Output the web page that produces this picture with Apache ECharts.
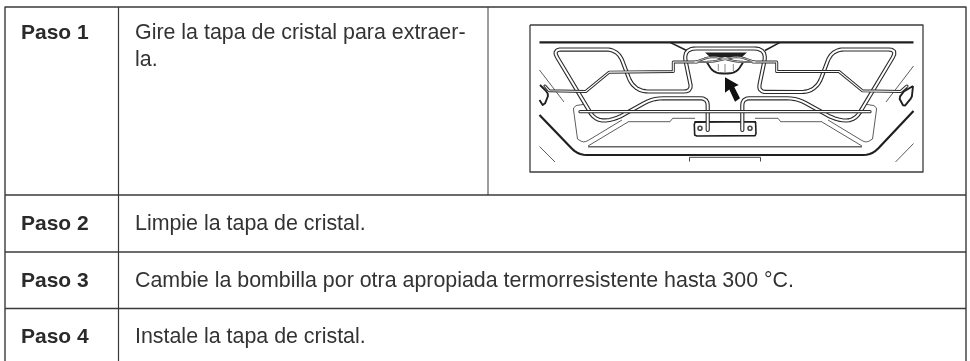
<!DOCTYPE html>
<html>
<head>
<meta charset="utf-8">
<style>html,body{margin:0;padding:0;background:#fff}#c{width:970px;height:361px}</style>
<script src="https://cdn.jsdelivr.net/npm/echarts@6/dist/echarts.min.js"></script>
</head>
<body>
<div id="c"></div>
<script>
// Table rules, in picture units
var tableOutline = [[5,361],[5,7],[966,7],[966,361]];
var tableCol1 = [[118.5,7],[118.5,361]];
var tableCol2 = [[488,7],[488,195]];
var tableRows = [[[5,195],[966,195]],[[5,252],[966,252]],[[5,308.5],[966,308.5]]];
var frame = [[530,25],[923,25],[923,172],[530,172],[530,25]];

// Table text: [x, y, text, bold]
var cellTexts = [
  [21,33,'Paso 1',true],
  [135,33,'Gire la tapa de cristal para extraer-',false],
  [135,60,'la.',false],
  [21,224,'Paso 2',true],
  [135,224,'Limpie la tapa de cristal.',false],
  [21,281,'Paso 3',true],
  [135,281,'Cambie la bombilla por otra apropiada termorresistente hasta 300 °C.',false],
  [21,337,'Paso 4',true],
  [135,337,'Instale la tapa de cristal.',false]
];

// Drawing control points: [x, y, corner radius]
var tube = [[707.7,130],[707.7,98.3,7],[653,98.3,10],[613,120.5,12],[595,120.5,10],[552.5,49.5,9],[618,49.5,12],[634,91.5,15],[692,91.5,8],[683,48.5,13],[767,48.5,13],[758,92,8],[816,92,15],[832,49.5,12],[897.5,49.5,9],[855,120.5,10],[837,120.5,12],[797,98.3,10],[742.3,98.3,7],[742.3,130]];
var rackLeft = [[545,86],[550,91.5,1],[586.7,91.5,1],[610,71.5,1],[673.3,71.5],[673.3,62],[697,62]];
var rackRight = [[753,62],[776.7,62],[776.7,71.5],[840,71.5,1],[863.3,91.5,1],[901.7,91.5,1],[907,86]];
var waveA = [[695,62],[712,56,8],[738,62,8],[755,62]];
var waveB = [[695,62],[712,62,8],[738,56,8],[755,62]];
var frontBar = [[580,111.7],[870,111.7]];
var trayLeft = [[622,120],[584,143,5],[577.5,139,0],[573,106,4],[586,104]];
var trayRight = [[828,120],[866,143,5],[872.5,139,0],[877,106,4],[864,104]];
var trayDiagonals = [[[588,146],[628,122]],[[862,146],[822,122]]];
var trayMidLeft = [[628,121.7],[670,121.7],[672.7,118.3],[695,118.3]];
var trayMidRight = [[755,118.3],[778,118.3],[780.7,121.7],[822,121.7]];
var trayBase = [[588,146.7],[862,146.7]];
var ovenBody = [[539.5,115],[578,155,9],[872,155,9],[913.5,111]];
var topEdge = [[539.5,42.3],[913.5,42.3]];
var hoodLeft = [[670,42.3],[686.7,50.5]];
var hoodRight = [[780,42.3],[765,50.5]];
var doorBracket = [[689.5,161.5],[689.5,157.3],[760.5,157.3],[760.5,161.5]];
var slashes = [
  [[539.5,70],[564,102]],[[539.5,146.5],[555,162]],
  [[913.5,66],[886,102]],[[913.5,143.5],[895.5,162]]
];
var lampBowl = [[706.7,62],[714,73.5,9],[736,73.5,9],[743.3,62]];
var lampCap = [[705,52.5],[747,52.5],[742,57],[710,57]];
var lampRibs = [[[718.3,64],[718.3,71]],[[725,64],[725,72]],[[733.3,64],[733.3,71]]];
var handleLeft = [[540,85],[549,94,4],[543.5,107,4],[539.5,100]];
var handleRight = [[913,86,2],[903,92,1],[899,98,2],[904,107,2],[912,97,2],[913,86,2]];
var handleStubLeft = [[544,85],[549,91]];
var handleStubRight = [[907,88],[902,91]];
var plate = [[694.3,121.7,2.5],[756,121.7,2.5],[756,136,2.5],[694.3,136,2.5],[694.3,121.7,2.5],[756,121.7]];
var screws = [[700,128.3],[750,128.3]];
var arrow = [[725,77.3],[738.7,85],[734.3,87],[740,98.3],[735,101.7],[729.3,89.5],[725,92.7]];

// Turn control points into a polyline whose corners are rounded
function rounded(pts) {
  var out = [];
  pts.forEach(function (p, i) {
    var r = p[2] || 0;
    if (!r || i === 0 || i === pts.length - 1) { out.push([p[0], p[1]]); return; }
    var a = pts[i - 1], b = pts[i + 1];
    var la = Math.hypot(a[0] - p[0], a[1] - p[1]), lb = Math.hypot(b[0] - p[0], b[1] - p[1]);
    var ra = Math.min(r, la / 2), rb = Math.min(r, lb / 2);
    var s = [p[0] + (a[0] - p[0]) * ra / la, p[1] + (a[1] - p[1]) * ra / la];
    var e = [p[0] + (b[0] - p[0]) * rb / lb, p[1] + (b[1] - p[1]) * rb / lb];
    for (var k = 0; k <= 10; k++) {
      var t = k / 10, u = 1 - t;
      out.push([u * u * s[0] + 2 * u * t * p[0] + t * t * e[0], u * u * s[1] + 2 * u * t * p[1] + t * t * e[1]]);
    }
  });
  return out;
}

var INK = '#1f1f1f';
var series = [];
function line(points, width, color, z, cap) {
  series.push({
    type: 'line', data: rounded(points), symbol: 'none', silent: true, animation: false,
    z: z || 2, lineStyle: { width: width, color: color || INK, cap: cap || 'butt', join: 'round' }
  });
}
function polygon(points, z, fill) {
  series.push({
    type: 'custom', data: [0], silent: true, animation: false, z: z,
    renderItem: function (params, api) {
      return { type: 'polygon', shape: { points: points.map(function (p) { return api.coord(p); }) }, style: { fill: fill } };
    }
  });
}
// table rules
line(tableOutline, 1.4, '#3a3a3a');
line(tableCol1, 1.2, '#3a3a3a');
line(tableCol2, 1, '#3a3a3a');
tableRows.forEach(function (r) { line(r, 1.4, '#3a3a3a'); });
line(frame, 1.3, '#3c3c3c');
// background drawing
slashes.forEach(function (s) { line(s, 0.8, '#333'); });
line(ovenBody, 2.2, INK, 3);
line(topEdge, 2.2, INK);
line(hoodLeft, 1.5, INK);
line(hoodRight, 1.5, INK);
line(doorBracket, 0.9, '#333');
[trayLeft, trayRight].forEach(function (t) { line(t, 0.8, '#333', 3); });
trayDiagonals.forEach(function (t) { line(t, 0.8, '#333', 3); });
[trayMidLeft, trayMidRight].forEach(function (t) { line(t, 0.8, '#333', 3); });
line(trayBase, 1.4, '#666', 3);
// lamp
line(lampBowl, 1.8, INK, 4);
polygon(lampCap, 4, INK);
lampRibs.forEach(function (r) { line(r, 0.7, '#555', 4); });
// handles
line(handleLeft, 1.9, INK, 4);
line(handleRight, 1.9, INK, 4);
line(handleStubLeft, 1.2, INK, 4);
line(handleStubRight, 1.2, INK, 4);
// plate
line(plate, 1.6, INK, 5);
// tubes: dark stroke then a light core
function tubeLine(points, outer, inner, z) {
  line(points, outer, '#2a2a2a', z, 'round');
  line(points, inner, '#fff', z + 0.1, 'round');
}
tubeLine(tube, 4.2, 2, 6);
tubeLine(rackLeft, 3, 1.1, 8);
tubeLine(rackRight, 3, 1.1, 8);
tubeLine(waveA, 2.2, 0.7, 8);
tubeLine(waveB, 2.2, 0.7, 8);
tubeLine(frontBar, 3.2, 1.2, 8);
// screws
series.push({
  type: 'scatter', data: screws, symbol: 'circle', symbolSize: 4, silent: true, animation: false, z: 9,
  itemStyle: { color: '#fff', borderColor: INK, borderWidth: 1.6 }
});
polygon(arrow, 10, '#111');
// cell text
series.push({
  type: 'custom', data: cellTexts, silent: true, animation: false, z: 11,
  encode: { x: 0, y: 1 },
  renderItem: function (params, api) {
    var t = cellTexts[params.dataIndex];
    var p = api.coord([t[0], t[1]]);
    return { type: 'text', style: {
      text: t[2], x: p[0], y: p[1], verticalAlign: 'middle', align: 'left',
      font: (t[3] ? 'bold 21px ' : '21.4px ') + '"Liberation Sans", Arial, sans-serif',
      fill: t[3] ? '#2a2a2a' : '#333'
    } };
  }
});

var chart = echarts.init(document.getElementById('c'));
chart.setOption({
  animation: false,
  backgroundColor: '#fff',
  grid: { left: 0, right: 0, top: 0, bottom: 0 },
  xAxis: { type: 'value', min: 0, max: 970, show: false },
  yAxis: { type: 'value', min: 0, max: 361, inverse: true, show: false },
  series: series
});
</script>
</body>
</html>
